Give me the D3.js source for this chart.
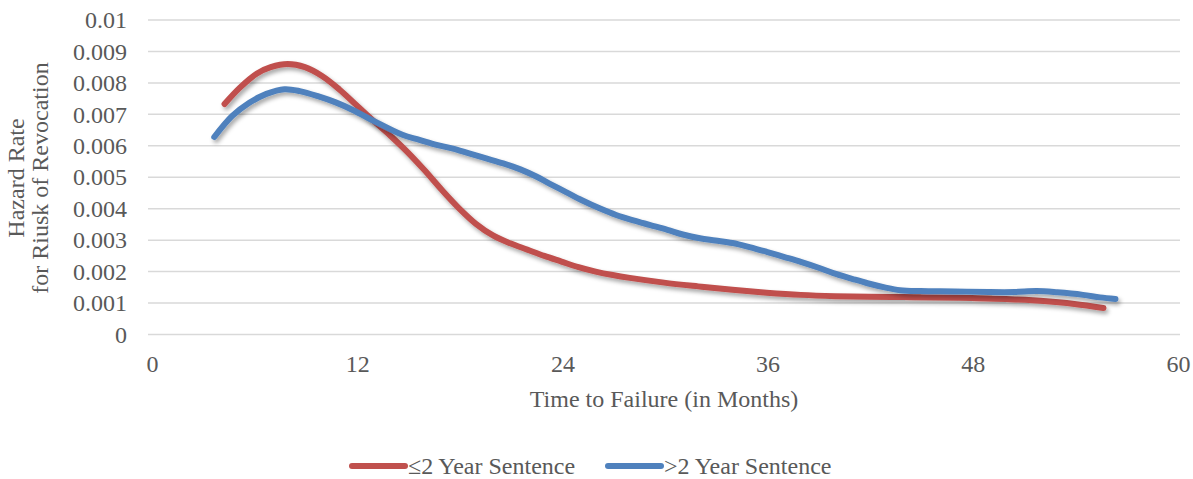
<!DOCTYPE html>
<html>
<head>
<meta charset="utf-8">
<script src="https://cdn.jsdelivr.net/npm/d3@7"></script>
<style>
  html, body { margin: 0; padding: 0; background: #fff; }
  svg { display: block; }
  text { font-family: "Liberation Serif", "Times New Roman", serif; fill: #595959; }
</style>
</head>
<body>
<svg id="chart" width="1193" height="479"></svg>
<script>
// Hazard rate for risk of revocation by time to failure (months)
const shortMonths = [4.3, 5.2, 6.2, 7, 8, 9, 10, 11, 12, 13, 14, 15, 16, 17, 18, 19, 20, 21, 22, 23, 24, 25, 26, 27, 28, 30, 32, 34, 36, 38, 40, 42, 44, 46, 48, 50, 52, 54, 55.7];
const shortRate   = [0.00733, 0.00785, 0.0083, 0.0085, 0.0086, 0.0085, 0.00822, 0.0078, 0.0073, 0.0068, 0.00632, 0.0058, 0.00522, 0.0046, 0.00402, 0.00352, 0.00315, 0.0029, 0.0027, 0.0025, 0.00232, 0.00214, 0.002, 0.00189, 0.0018, 0.00165, 0.00153, 0.00142, 0.00133, 0.00126, 0.00122, 0.0012, 0.00119, 0.00118, 0.00116, 0.00113, 0.00107, 0.00097, 0.00084];

const longMonths = [3.7, 4.75, 5.75, 6.75, 7.8, 8.7, 9.8, 10.8, 11.8, 13.1, 14.7, 15.7, 16.7, 17.6, 18.6, 19.6, 20.6, 21.6, 22.5, 23.3, 24.3, 25.2, 26.2, 27.2, 28.2, 29.2, 30.2, 31.1, 32.1, 33, 34, 35, 36, 37, 38, 39, 39.9, 41, 41.9, 42.9, 43.8, 45, 47, 49, 50.5, 51.8, 53, 54.5, 55.5, 56.4];
const longRate   = [0.00628, 0.00695, 0.00737, 0.00765, 0.0078, 0.00774, 0.00757, 0.00738, 0.00714, 0.00677, 0.00635, 0.00619, 0.00603, 0.00592, 0.00576, 0.0056, 0.00544, 0.00525, 0.00503, 0.0048, 0.00452, 0.00427, 0.00402, 0.0038, 0.00363, 0.00348, 0.00333, 0.00318, 0.00306, 0.00299, 0.00291, 0.00278, 0.00263, 0.00247, 0.00231, 0.00213, 0.00195, 0.00177, 0.00163, 0.0015, 0.00141, 0.00138, 0.00137, 0.00135, 0.00135, 0.00138, 0.00134, 0.00126, 0.00118, 0.00113];

const xTicks = [0, 12, 24, 36, 48, 60];
const yTicks = [0, 0.001, 0.002, 0.003, 0.004, 0.005, 0.006, 0.007, 0.008, 0.009, 0.01];
const seriesNames = ["\u22642 Year Sentence", ">2 Year Sentence"];
const seriesColors = ["#C0504D", "#4F81BD"];

const FONT = "Liberation Serif";
const FS = 24;

const svg = d3.select("#chart");

const x = d3.scaleLinear().domain([0, 60]).range([151, 1177]);
const y = d3.scaleLinear().domain([0, 0.01]).range([334.5, 20]);

// Drop shadow under the lines
const defs = svg.append("defs");
const f = defs.append("filter").attr("id", "shadow")
  .attr("x", "-5%").attr("y", "-20%").attr("width", "110%").attr("height", "140%");
f.append("feDropShadow").attr("dx", 2).attr("dy", 3).attr("stdDeviation", 2)
  .attr("flood-color", "#000").attr("flood-opacity", 0.35);

// Horizontal gridlines
svg.append("g").selectAll("line").data(yTicks).join("line")
  .attr("x1", x(0) - 3).attr("x2", x(60) + 3)
  .attr("y1", d => y(d)).attr("y2", d => y(d))
  .attr("stroke", "#d9d9d9").attr("stroke-width", 1.5);

// Y axis tick labels
const yAxis = d3.axisLeft(y).tickValues(yTicks).tickSize(0).tickPadding(0)
  .tickFormat(d => d === 0 ? "0" : String(+d.toFixed(3)));
const gy = svg.append("g").attr("transform", "translate(127,0)").call(yAxis);
gy.select(".domain").remove();
gy.selectAll("text").attr("font-size", FS).attr("font-family", FONT).attr("fill", "#595959");

// X axis tick labels
const xAxis = d3.axisBottom(x).tickValues(xTicks).tickSize(0).tickPadding(0);
const gx = svg.append("g").attr("transform", "translate(1,355)").call(xAxis);
gx.select(".domain").remove();
gx.selectAll("text").attr("font-size", FS).attr("font-family", FONT).attr("fill", "#595959");

// Axis titles
svg.append("text").attr("x", 664).attr("y", 407).attr("text-anchor", "middle")
  .attr("font-size", FS).text("Time to Failure (in Months)");

const yt = svg.append("text").attr("transform", "translate(0,178) rotate(-90)")
  .attr("text-anchor", "middle").attr("font-size", FS);
yt.append("tspan").attr("x", 0).attr("y", 24).text("Hazard Rate");
yt.append("tspan").attr("x", 0).attr("y", 48).text("for Riusk of Revocation");

// Smoothed series lines
const line = d3.line().x(d => x(d[0])).y(d => y(d[1])).curve(d3.curveCatmullRom.alpha(0.5));
const series = [
  d3.zip(shortMonths, shortRate),
  d3.zip(longMonths, longRate)
];
svg.append("g").selectAll("path").data(series).join("path")
  .attr("d", line)
  .attr("fill", "none")
  .attr("stroke", (d, i) => seriesColors[i])
  .attr("stroke-width", 6)
  .attr("stroke-linecap", "round")
  .attr("stroke-linejoin", "round")
  .attr("filter", "url(#shadow)");

// Legend
const legendX = [352, 608];
const lg = svg.append("g").selectAll("g").data(seriesNames).join("g")
  .attr("transform", (d, i) => `translate(${legendX[i]},466)`);
lg.append("line").attr("x1", 0).attr("x2", 53).attr("y1", 0).attr("y2", 0)
  .attr("stroke", (d, i) => seriesColors[i]).attr("stroke-width", 6).attr("stroke-linecap", "round");
lg.append("text").attr("x", 56).attr("y", 8).attr("font-size", FS).text(d => d);
</script>
</body>
</html>
